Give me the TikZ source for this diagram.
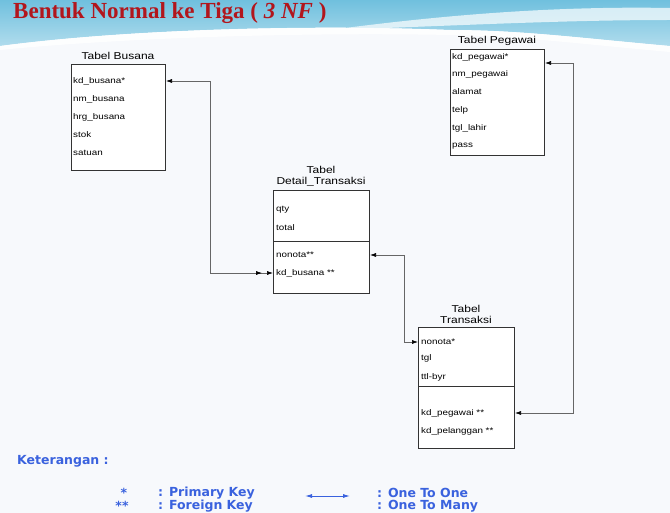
\documentclass[tikz,border=0pt]{standalone}
\usepackage{fontspec}
\setmainfont{Liberation Serif}
\newfontfamily\tabfont[FakeStretch=1.2]{Liberation Sans}
\newfontfamily\notefont{DejaVu Sans}
\usetikzlibrary{arrows.meta,calc,positioning}
\definecolor{judulred}{RGB}{178,22,28}
\definecolor{skyband}{RGB}{112,192,222}
\definecolor{notecol}{RGB}{58,98,222}
\definecolor{paper}{RGB}{247,249,252}

\begin{document}
\begin{tikzpicture}[x=1pt,y=-1pt,>=Latex,
    tbl/.style={draw=black!80,line width=0.6pt,fill=white,inner sep=0pt,outer sep=0pt},
    ttl/.style={font=\tabfont\fontsize{10}{11}\selectfont,align=center,inner sep=0pt},
    fld/.style={anchor=west,font=\tabfont\fontsize{8.2}{9}\selectfont,inner sep=0pt},
    rel/.style={draw=black!60,line width=0.6pt,{Latex[length=6pt,width=4pt,black]}-{Latex[length=6pt,width=4pt,black]}},
    many/.style={draw=black!60,line width=0.6pt,{Latex[length=6pt,width=4pt,black]}-{Latex[length=6pt,width=4pt,black,sep=5pt]Latex[length=6pt,width=4pt,black]}},
    note/.style={anchor=west,font=\notefont\bfseries\fontsize{12.5}{14}\selectfont,text=notecol,inner sep=0pt}]
    \useasboundingbox (0,0) rectangle (670,513);
    % background
    \fill[paper] (0,0) rectangle (670,513);
    \shade[top color=skyband,bottom color=skyband!55] (0,0) -- (670,0) -- (670,46) .. controls (580,38) and (520,30) .. (450,30) .. controls (300,24) and (120,30) .. (0,46) -- cycle;
    \fill[white,opacity=.85] (0,46) .. controls (120,30) and (300,24) .. (450,30) .. controls (520,30) and (580,38) .. (670,46) -- (670,52) .. controls (580,44) and (520,36) .. (450,35) .. controls (300,32) and (120,38) .. (0,50) -- cycle;
    \fill[white,opacity=.7] (330,30) .. controls (450,14) and (560,6) .. (670,8) -- (670,20) .. controls (560,20) and (450,26) .. (330,30) -- cycle;
    \node[anchor=base west,inner sep=0pt,font=\bfseries\fontsize{23}{26}\selectfont,text=judulred] (judul) at (13,19) {Bentuk Normal ke Tiga ( \textit{3 NF} )};

    % Tabel Busana
    \node[ttl] (busanattl) at (118,56) {Tabel Busana};
    \node[tbl,minimum width=94pt,minimum height=106pt] (busana) at (118,117) {};
    \node[fld] (kdbusana) at (73,81) {kd\_busana*};
    \node[fld] (nmbusana) at (73,99) {nm\_busana};
    \node[fld] (hrgbusana) at (73,117) {hrg\_busana};
    \node[fld] (stok) at (73,135) {stok};
    \node[fld] (satuan) at (73,153) {satuan};

    % Tabel Pegawai
    \node[ttl] (pegawaittl) at (497,41) {Tabel Pegawai};
    \node[tbl,minimum width=94pt,minimum height=106pt] (pegawai) at (497,102) {};
    \node[fld] (kdpegawai) at (452,57) {kd\_pegawai*};
    \node[fld] (nmpegawai) at (452,74) {nm\_pegawai};
    \node[fld] (alamat) at (452,92) {alamat};
    \node[fld] (telp) at (452,110) {telp};
    \node[fld] (tgllahir) at (452,128) {tgl\_lahir};
    \node[fld] (pass) at (452,146) {pass};

    % Tabel Detail_Transaksi
    \node[ttl] (detailttl) at (321,176) {Tabel\\Detail\_Transaksi};
    \node[tbl,minimum width=96pt,minimum height=103pt] (detail) at (321,241.5) {};
    \draw[black!80,line width=0.6pt] (detail.west |- 0,241) -- (detail.east |- 0,241);
    \node[fld] (qty) at (276,210) {qty};
    \node[fld] (total) at (276,228) {total};
    \node[fld] (dnonota) at (276,255) {nonota**};
    \node[fld] (dkdbusana) at (276,273) {kd\_busana **};

    % Tabel Transaksi
    \node[ttl] (transaksittl) at (466,314) {Tabel\\Transaksi};
    \node[tbl,minimum width=96pt,minimum height=121pt] (transaksi) at (466,387.5) {};
    \draw[black!80,line width=0.6pt] (transaksi.west |- 0,386) -- (transaksi.east |- 0,386);
    \node[fld] (tnonota) at (421,342) {nonota*};
    \node[fld] (tgl) at (421,358) {tgl};
    \node[fld] (ttlbyr) at (421,377) {ttl-byr};
    \node[fld] (tkdpegawai) at (421,413) {kd\_pegawai **};
    \node[fld] (tkdpelanggan) at (421,431) {kd\_pelanggan **};

    % relasi
    \coordinate (ja) at (210,81);
    \coordinate (jb) at (404,255);
    \coordinate (jc) at (573,63);
    \draw[many] ([xshift=1pt]busana.east |- kdbusana) -- (ja) |- (detail.west |- dkdbusana);
    \draw[rel] ([xshift=1pt]detail.east |- dnonota) -- (jb) |- (transaksi.west |- tnonota);
    \draw[rel] ([xshift=1pt]pegawai.east |- jc) -- (jc) |- ([xshift=1pt]transaksi.east |- tkdpegawai);

    % keterangan
    \node[note] (ket) at (17,461) {Keterangan :};
    \node[note,anchor=center] (bintang) at (124,493) {*};
    \node[note] (pk) at (158,493) {: Primary Key};
    \node[note,anchor=center] (bintang2) at (122,506) {**};
    \node[note] (fk) at (158,506) {: Foreign Key};
    \coordinate (lga) at (305,496);
    \coordinate (lgb) at (350,496);
    \draw[notecol,line width=0.9pt,{Latex[length=7pt,width=4pt]}-{Latex[length=7pt,width=4pt]}] (lga) -- (lgb);
    \node[note] (oto) at (377,493) {: One To One};
    \node[note] (otm) at (377,506) {: One To Many};
  \end{tikzpicture}
\end{document}
